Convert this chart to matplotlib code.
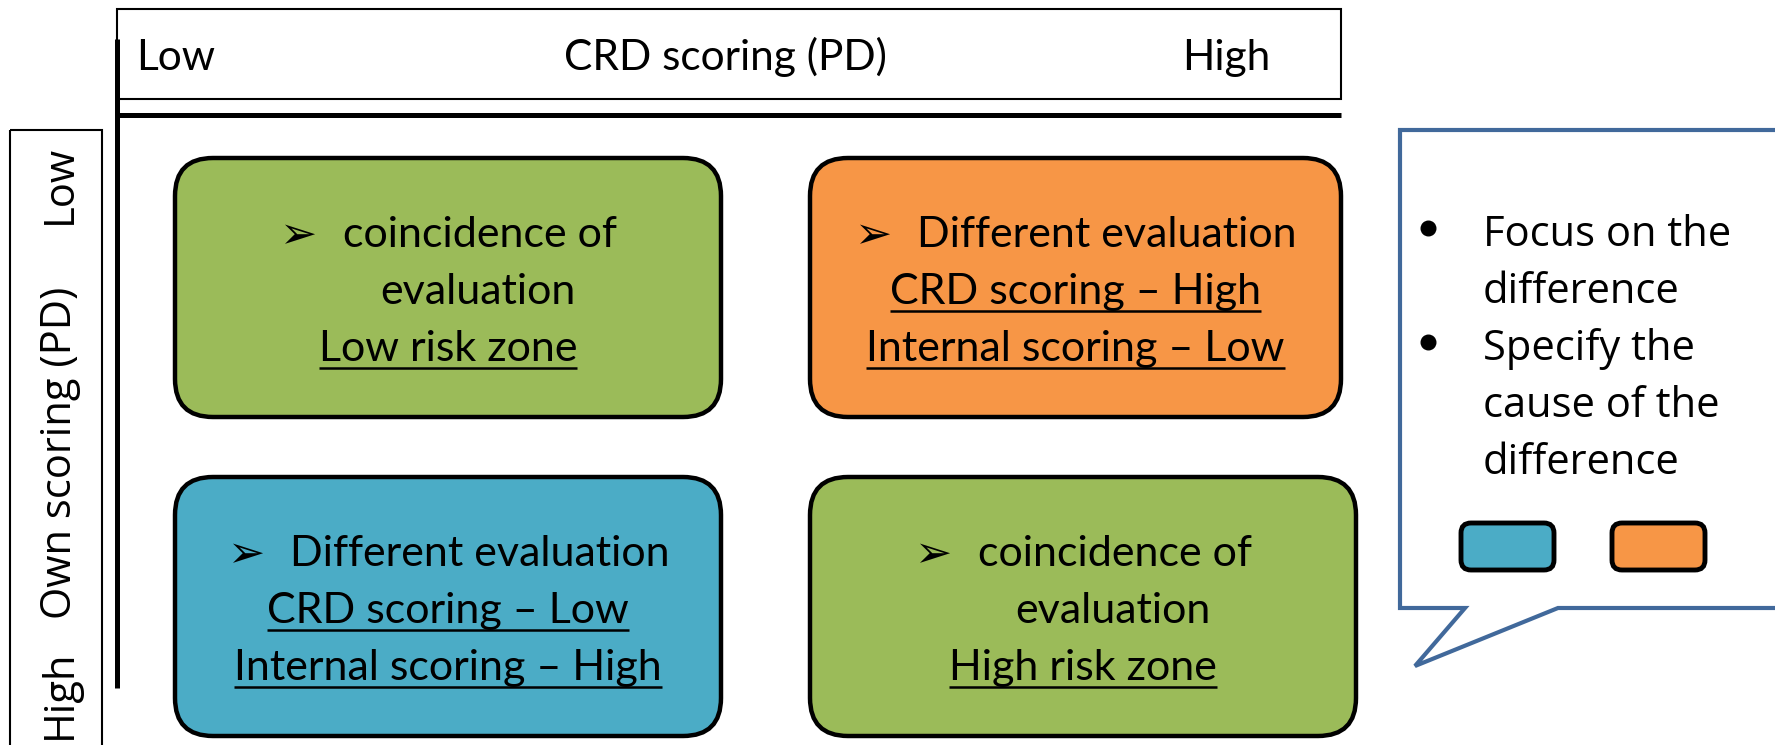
import matplotlib.pyplot as plt
from matplotlib.patches import FancyBboxPatch, Rectangle, Polygon

# chart content
x_title = 'CRD scoring (PD)'
y_title = 'Own scoring (PD)'
levels = ['Low', 'High']

quad_colors = ['#9BBB59', '#F79646', '#4BACC6', '#9BBB59']
quad_heads = ['coincidence of', 'Different evaluation',
              'Different evaluation', 'coincidence of']
quad_rest = [['evaluation', 'Low risk zone'],
             ['CRD scoring – High', 'Internal scoring – Low'],
             ['CRD scoring – Low', 'Internal scoring – High'],
             ['evaluation', 'High risk zone']]
quad_underline = [[False, True], [True, True], [True, True], [False, True]]

callout_items = [['Focus on the', 'difference'],
                 ['Specify the', 'cause of the', 'difference']]
callout_colors = ['#4BACC6', '#F79646']

W, H = 1775, 745
BOX_FONT = ['Lato', 'DejaVu Sans']
SIDE_FONT = ['Open Sans', 'DejaVu Sans']

fig = plt.figure(figsize=(W / 100, H / 100), dpi=100)
ax = fig.add_axes([0, 0, 1, 1])
ax.set_xlim(0, W)
ax.set_ylim(H, 0)
ax.axis('off')

# header (x axis) and side (y axis) frames
ax.add_patch(Rectangle((117, 9), 1224, 90, fill=False, lw=1.5, ec='black'))
ax.add_patch(Rectangle((10, 130), 92, 700, fill=False, lw=1.5, ec='black'))
ax.plot([117, 1341], [115, 115], color='black', lw=3.6, solid_capstyle='butt')
ax.plot([117, 117], [39, 688], color='black', lw=3.6, solid_capstyle='butt')

ax.text(136, 70, levels[0], fontsize=30.5, family=BOX_FONT, ha='left', va='baseline')
ax.text(725, 70, x_title, fontsize=30.5, family=BOX_FONT, ha='center', va='baseline')
ax.text(1270, 70, levels[1], fontsize=30.5, family=BOX_FONT, ha='right', va='baseline')

side_kw = dict(fontsize=30, family=SIDE_FONT, rotation=90, rotation_mode='anchor',
               ha='center', va='baseline')
ax.text(71, 184, levels[0], **side_kw)
ax.text(71, 453, y_title, **side_kw)
ax.text(71, 694, levels[1], **side_kw)

# quadrant boxes
boxes = [(175, 158, 546, 259), (810, 158, 531, 259),
         (175, 477, 546, 259), (810, 477, 546, 259)]
fig.canvas.draw()
renderer = fig.canvas.get_renderer()

for i, (bx, by, bw, bh) in enumerate(boxes):
    ax.add_patch(FancyBboxPatch((bx, by), bw, bh,
                                boxstyle='round,pad=0,rounding_size=38',
                                fc=quad_colors[i], ec='black', lw=3.2))
    cx = bx + bw / 2
    base = by + 89
    arrow = ax.text(0, base + 1, '➢', fontsize=32, family='DejaVu Sans', va='baseline')
    head = ax.text(0, base, quad_heads[i], fontsize=31, family=BOX_FONT, va='baseline')
    aw = arrow.get_window_extent(renderer).width
    hw = head.get_window_extent(renderer).width
    gap = 26
    start = cx - (aw + gap + hw) / 2
    arrow.set_x(start)
    head.set_x(start + aw + gap)
    for j, line in enumerate(quad_rest[i]):
        y = base + 57 * (j + 1)
        x = cx + (30 if not quad_underline[i][j] else 0)
        t = ax.text(x, y, line, fontsize=31, family=BOX_FONT, ha='center', va='baseline')
        if quad_underline[i][j]:
            ext = t.get_window_extent(renderer)
            ax.plot([ext.x0, ext.x1], [y + 7, y + 7], color='black', lw=1.8,
                    solid_capstyle='butt')

# callout
ax.add_patch(Polygon([(1400, 130), (1800, 130), (1800, 608), (1558, 608),
                      (1415, 666), (1465, 608), (1400, 608)], closed=True,
                     fc='white', ec='#41699B', lw=3, joinstyle='miter'))
y = 246
for item in callout_items:
    ax.plot(1428, y - 18, 'o', color='black', markersize=10.5)
    for line in item:
        ax.text(1483, y, line, fontsize=30, family=SIDE_FONT, ha='left', va='baseline')
        y += 57

for k, c in enumerate(callout_colors):
    ax.add_patch(FancyBboxPatch((1461 + 151 * k, 523), 93, 47,
                                boxstyle='round,pad=0,rounding_size=10',
                                fc=c, ec='black', lw=3.5))

fig.savefig('out.png', dpi=100)
